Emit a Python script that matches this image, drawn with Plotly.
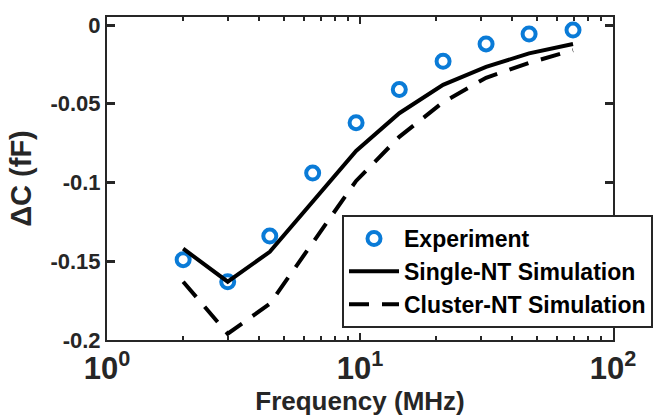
import plotly.graph_objects as go

# ---- data ----
freq_mhz = [2.0, 3.0, 4.4, 6.5, 9.65, 14.3, 21.3, 31.5, 46.6, 69.5]
experiment = [-0.149, -0.163, -0.134, -0.094, -0.062, -0.041, -0.023, -0.012, -0.0057, -0.0032]
single_nt = [-0.142, -0.163, -0.144, -0.112, -0.080, -0.056, -0.038, -0.0266, -0.018, -0.012]
cluster_nt = [-0.163, -0.196, -0.177, -0.138, -0.099, -0.071, -0.049, -0.0335, -0.024, -0.016]

x_tickvals = [1, 10, 100]
x_ticktext = ["10<sup>0</sup>", "10<sup>1</sup>", "10<sup>2</sup>"]
y_tickvals = [0, -0.05, -0.1, -0.15, -0.2]
y_ticktext = ["0", "-0.05", "-0.1", "-0.15", "-0.2"]

FONT = "Liberation Sans, Arial, sans-serif"
AX = "#262626"
BLUE = "#0A7BD7"

fig = go.Figure()
fig.add_trace(go.Scatter(
    x=freq_mhz, y=experiment, mode="markers", name="Experiment",
    marker=dict(symbol="circle-open", size=13, color=BLUE, line=dict(width=4, color=BLUE)),
))
fig.add_trace(go.Scatter(
    x=freq_mhz, y=single_nt, mode="lines", name="Single-NT Simulation",
    line=dict(color="black", width=4),
))
fig.add_trace(go.Scatter(
    x=freq_mhz, y=cluster_nt, mode="lines", name="Cluster-NT Simulation",
    line=dict(color="black", width=4, dash="20px,13px"),
))

fig.update_layout(
    width=663, height=420,
    margin=dict(l=107, r=50, t=17, b=80, autoexpand=False),
    paper_bgcolor="white", plot_bgcolor="white",
    font=dict(family=FONT, size=21, color=AX),
    showlegend=True,
    legend=dict(
        x=(342 - 107) / 506, y=(340 - 215) / 323, xanchor="left", yanchor="top",
        bgcolor="white", bordercolor=AX, borderwidth=2,
        font=dict(family=FONT, size=23, color="black", weight="bold"),
        itemwidth=50, tracegroupgap=0,
    ),
)

fig.update_xaxes(
    type="log", range=[0, 2], automargin=False,
    tickmode="array", tickvals=x_tickvals, ticktext=x_ticktext,
    ticks="inside", ticklen=7, tickwidth=2, tickcolor=AX,
    minor=dict(dtick="D1", ticks="inside", ticklen=4, tickwidth=2, tickcolor=AX, showgrid=False),
    showline=True, linecolor=AX, linewidth=2, mirror="ticks",
    showgrid=False, zeroline=False,
    tickfont=dict(family=FONT, size=31, color=AX, weight="bold"),
    title=dict(text="Frequency (MHz)", font=dict(family=FONT, size=26, color=AX, weight="bold"), standoff=4),
)
fig.update_yaxes(
    range=[-0.2, 0.0051], automargin=False,
    tickmode="array", tickvals=y_tickvals, ticktext=y_ticktext,
    ticks="inside", ticklen=8, tickwidth=2.5, tickcolor=AX,
    showline=True, linecolor=AX, linewidth=2, mirror="ticks",
    showgrid=False, zeroline=False,
    tickfont=dict(family=FONT, size=22, color=AX, weight="bold"),
    title=dict(text="ΔC (fF)", font=dict(family=FONT, size=29, color=AX, weight="bold"), standoff=10),
)

fig.write_html("out.html")
